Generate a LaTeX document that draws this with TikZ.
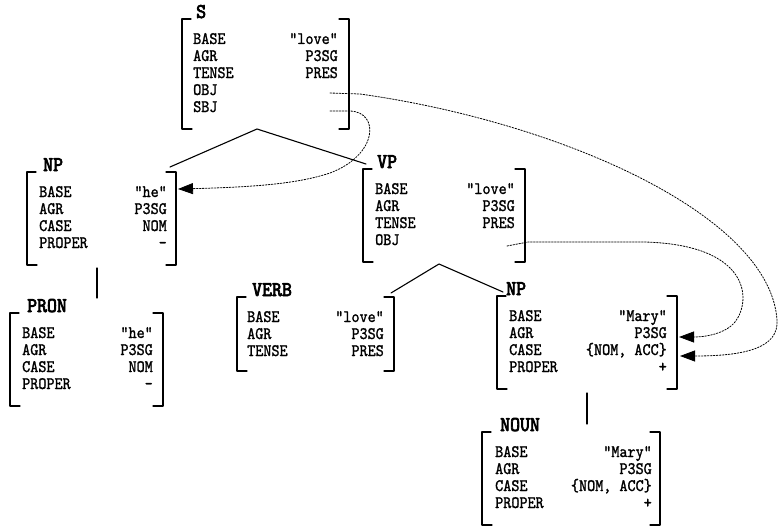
\documentclass[tikz,border=0pt]{standalone}
\usepackage{fontspec}
\usetikzlibrary{arrows.meta}

\newfontfamily\rowfont{lmmono10-regular.otf}[FakeBold=1.4,FakeStretch=0.88]
\newfontfamily\catfont{lmmono10-regular.otf}[FakeBold=3.5,FakeStretch=0.9]

\tikzset{
  attr/.style={anchor=base west,inner sep=0pt,font=\fontsize{17.5}{19}\rowfont},
  val/.style={anchor=base east,inner sep=0pt,font=\fontsize{17.5}{19}\rowfont},
  cat/.style={anchor=base west,inner sep=0pt,font=\fontsize{21}{23}\catfont},
  brk/.style={line width=1.2pt},
  branch/.style={line width=1.1pt},
  share/.style={line width=0.8pt,dash pattern=on 1.6pt off 1.4pt,-{Triangle[length=15pt,width=11pt]}},
}

% 方括号：#1 左x  #2 右x  #3 上y  #4 下y
\newcommand\fsbox[4]{%
  \draw[brk] (#1+9,#3) -- (#1,#3) -- (#1,#4) -- (#1+10,#4);
  \draw[brk] (#2-10,#3) -- (#2,#3) -- (#2,#4) -- (#2-10,#4);}

\begin{document}
\begin{tikzpicture}[x=1pt, y=-1pt, line cap=round, line join=round]

  %% ════ S ════
  \node[cat] (s) at (196,18) {S};
  \fsbox{182}{349}{19}{129}
  \foreach \a/\v [count=\i from 0] in {BASE/"love", AGR/P3SG, TENSE/PRES, OBJ/, SBJ/}
    { \node[attr] (s-\a) at (193,44+17*\i) {\a}; \node[val] (s-\a-v) at (338,44+17*\i) {\v}; }

  %% ════ NP（he）════
  \node[cat] (np1) at (43,171) {NP};
  \fsbox{27}{176}{172}{265}
  \foreach \a/\v [count=\i from 0] in {BASE/"he", AGR/P3SG, CASE/NOM, PROPER/-}
    { \node[attr] (np1-\a) at (39,197+17*\i) {\a}; \node[val] (np1-\a-v) at (167,197+17*\i) {\v}; }

  %% ════ PRON ════
  \node[cat] (pron) at (27,312) {PRON};
  \fsbox{10}{163}{313}{406}
  \foreach \a/\v [count=\i from 0] in {BASE/"he", AGR/P3SG, CASE/NOM, PROPER/-}
    { \node[attr] (pron-\a) at (22,338+17*\i) {\a}; \node[val] (pron-\a-v) at (153,338+17*\i) {\v}; }

  %% ════ VP ════
  \node[cat] (vp) at (377,168) {VP};
  \fsbox{363}{525}{169}{262}
  \foreach \a/\v [count=\i from 0] in {BASE/"love", AGR/P3SG, TENSE/PRES, OBJ/}
    { \node[attr] (vp-\a) at (375,194+17*\i) {\a}; \node[val] (vp-\a-v) at (515,194+17*\i) {\v}; }

  %% ════ VERB ════
  \node[cat] (verb) at (252,296) {VERB};
  \fsbox{237}{394}{297}{371}
  \foreach \a/\v [count=\i from 0] in {BASE/"love", AGR/P3SG, TENSE/PRES}
    { \node[attr] (verb-\a) at (247,322+17*\i) {\a}; \node[val] (verb-\a-v) at (384,322+17*\i) {\v}; }

  %% ════ NP（Mary）════
  \node[cat] (np2) at (506,295) {NP};
  \fsbox{497}{677}{296}{389}
  \foreach \a/\v [count=\i from 0] in {BASE/"Mary", AGR/P3SG, CASE/{\{NOM, ACC\}}, PROPER/+}
    { \node[attr] (np2-\a) at (509,321+17*\i) {\a}; \node[val] (np2-\a-v) at (667,321+17*\i) {\v}; }

  %% ════ NOUN ════
  \node[cat] (noun) at (500,431) {NOUN};
  \fsbox{482}{660}{432}{525}
  \foreach \a/\v [count=\i from 0] in {BASE/"Mary", AGR/P3SG, CASE/{\{NOM, ACC\}}, PROPER/+}
    { \node[attr] (noun-\a) at (495,457+17*\i) {\a}; \node[val] (noun-\a-v) at (652,457+17*\i) {\v}; }

  %% ════ 树枝 ════
  \coordinate (s-fork) at (257,129);
  \coordinate (vp-fork) at (439,264);
  \coordinate (np1-top) at (170,167);
  \coordinate (vp-top) at (366,164);
  \coordinate (verb-top) at (391,293);
  \coordinate (np2-top) at (503,292);
  \draw[branch] (np1-top) -- (s-fork) -- (vp-top);
  \draw[branch] (verb-top) -- (vp-fork) -- (np2-top);
  \draw[branch] (97,268) -- (97,298);
  \draw[branch] (587,393) -- (587,424);

  %% ════ 共享值（虚线箭头）════
  \coordinate (s-sbj-end) at (330,111);
  \coordinate (s-obj-end) at (330,93);
  \coordinate (vp-obj-end) at (507,246);
  \coordinate (np1-in) at (178,189);
  \coordinate (np2-agr-in) at (679,337);
  \coordinate (np2-case-in) at (680,356);
  \draw[share] (s-sbj-end) -- (350,111) .. controls (380,112) and (378,155) .. (330,173)
               .. controls (300,183) and (260,187) .. (np1-in);
  \draw[share] (s-obj-end) -- (360,94) .. controls (560,122) and (770,215) .. (777,320)
               .. controls (779,348) and (745,356) .. (np2-case-in);
  \draw[share] (vp-obj-end) -- (528,242) -- (645,242) .. controls (750,245) and (752,300) .. (735,322)
               .. controls (725,334) and (705,337) .. (np2-agr-in);

  \pgfresetboundingbox
  \path[use as bounding box] (0,0) rectangle (779,527);
\end{tikzpicture}
\end{document}
